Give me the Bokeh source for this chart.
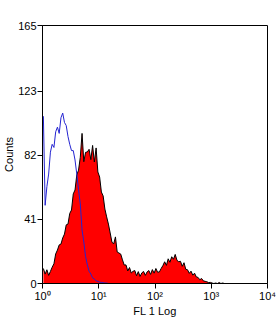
from bokeh.plotting import figure
from bokeh.models import Range1d, FixedTicker, CustomJSTickFormatter, ColumnDataSource
from bokeh.embed import file_html
from bokeh.resources import INLINE

# ---- data ----
n_channels = 128          # channels over 4 decades
decades = 4
y_ticks = [0, 41, 82, 123, 165]
x_ticks = [1, 10, 100, 1000, 10000]
x_label = "FL 1 Log"
y_label = "Counts"

# stained sample (red filled histogram), counts per channel
red_counts = [
    9.6, 6.0, 8.8, 5.2, 7.7, 10.4, 12.6, 18.9, 21.4, 24.7,
    25.2, 29.1, 31.6, 37.5, 38.0, 44.8, 47.0, 57.3, 59.8, 69.4,
    72.5, 80.7, 96.0, 77.9, 83.9, 84.1, 85.8, 79.2, 88.3, 77.7,
    86.7, 71.3, 68.1, 58.5, 56.0, 47.6, 42.6, 38.0, 32.3, 26.5,
    25.3, 29.8, 20.1, 19.5, 18.8, 15.1, 11.8, 11.9, 8.0, 10.2,
    6.7, 7.8, 8.3, 5.0, 7.6, 4.5, 6.8, 7.7, 5.2, 7.4,
    8.3, 5.8, 8.9, 6.6, 9.6, 7.2, 7.4, 9.6, 11.5, 13.9,
    11.6, 15.8, 13.6, 17.1, 15.5, 18.6, 14.8, 13.9, 14.2, 11.0,
    13.3, 9.1, 8.8, 6.5, 7.9, 5.3, 6.6, 4.2, 3.9, 2.4,
    3.2, 1.7, 1.4, 1.1, 0.6, 0.7, 0.3, 0.0, 0.3, 0.0,
    0.6, 0.0, 0.3, 0.0,
]

# isotype control (blue line), counts per channel
blue_counts = [
    107.0, 50.0, 62.0, 70.0, 84.0, 89.0, 87.0, 97.0, 100.0, 96.0,
    106.0, 109.0, 103.0, 101.0, 94.0, 89.0, 85.0, 85.0, 79.0, 70.0,
    60.0, 50.9, 34.2, 26.6, 17.2, 12.0, 7.8, 6.1, 3.6, 2.8,
    1.7, 1.4, 0.8, 0.7, 0.5, 0.3, 0.3, 0.0,
]

# ---- build channel positions ----
red = red_counts + [0.0] * (n_channels - len(red_counts))
blue = blue_counts + [0.0] * (n_channels - len(blue_counts))
xs = [10 ** ((i + 0.5) * decades / n_channels) for i in range(n_channels)]

src = ColumnDataSource(dict(x=xs, red=red, blue=blue, zero=[0.0] * n_channels))

p = figure(width=276, height=319, x_axis_type="log",
           x_range=Range1d(1, 10000), y_range=Range1d(0, 165),
           output_backend="svg", toolbar_location=None,
           min_border_left=41, min_border_right=9,
           min_border_top=25, min_border_bottom=36)

p.varea(x="x", y1="zero", y2="red", source=src, fill_color="#ff0000")
p.line(x="x", y="red", source=src, line_color="black", line_width=1)
p.line(x="x", y="blue", source=src, line_color="#2424d0", line_width=1)

p.xgrid.visible = False
p.ygrid.visible = False
p.outline_line_color = "black"
p.outline_line_width = 1
p.outline_line_alpha = 1.0

font = "Liberation Sans"
for ax in (p.xaxis[0], p.yaxis[0]):
    ax.axis_line_color = "black"
    ax.major_tick_line_color = "black"
    ax.minor_tick_line_color = None
    ax.major_tick_in = 0
    ax.major_tick_out = 5
    ax.major_label_text_font = font
    ax.major_label_text_font_size = "11px"
    ax.major_label_text_color = "black"
    ax.axis_label_text_font = font
    ax.axis_label_text_font_size = "11px"
    ax.axis_label_text_font_style = "normal"
    ax.axis_label_text_color = "black"
    ax.major_label_standoff = 1
    ax.axis_label_standoff = 0

p.yaxis.ticker = FixedTicker(ticks=y_ticks)
p.xaxis.ticker = FixedTicker(ticks=x_ticks)
p.xaxis.formatter = CustomJSTickFormatter(code="""
const sup = ['\\u2070', '\\u00b9', '\\u00b2', '\\u00b3', '\\u2074'];
return '10' + sup[Math.round(Math.log10(tick))];
""")
p.xaxis.axis_label = x_label
p.yaxis.axis_label = y_label

open("out.html", "w").write(file_html(p, INLINE))
